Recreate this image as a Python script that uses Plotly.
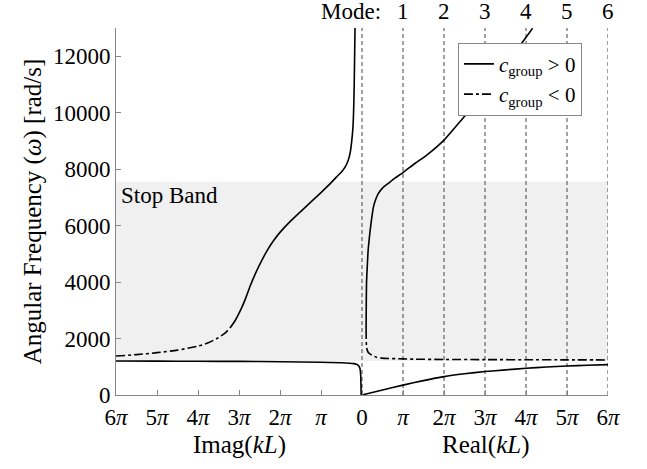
import plotly.graph_objects as go

PI = "<i>π</i>"
# x values in units of pi (negative side = Imag(kL), positive side = Real(kL))
lower_left_x = [-6, -5, -4, -3, -2, -1, -0.5, -0.3, -0.2, -0.14, -0.1, -0.07, -0.05, -0.04, -0.03, -0.025, -0.02]
lower_left_y = [1205, 1200, 1195, 1190, 1178, 1158, 1140, 1125, 1110, 1090, 1060, 1010, 940, 850, 650, 350, 0]

lower_right_x = [0, 0.5, 1, 1.5, 2, 2.5, 3, 3.5, 4, 4.5, 5, 5.5, 6]
lower_right_y = [0, 180, 350, 510, 650, 750, 830, 890, 945, 990, 1025, 1055, 1075]

upper_left_dash_x = [-6, -5.5, -5, -4.5, -4, -3.75, -3.54, -3.35, -3.22]
upper_left_dash_y = [1380, 1430, 1500, 1590, 1730, 1850, 2000, 2180, 2370]
upper_left_solid_x = [-3.22, -3.1, -2.98, -2.85, -2.73, -2.6, -2.45, -2.3, -2.15, -2.0, -1.75, -1.51, -1.25,
                      -1.0, -0.8, -0.62, -0.5, -0.41, -0.34, -0.29, -0.25, -0.22, -0.2, -0.19, -0.18, -0.17]
upper_left_solid_y = [2370, 2620, 2950, 3380, 3850, 4300, 4750, 5150, 5480, 5760, 6150, 6480, 6830,
                      7170, 7450, 7727, 7900, 8081, 8300, 8566, 9000, 9500, 10300, 11000, 12000, 13000]

upper_right_dash_x = [0.1, 0.103, 0.11, 0.125, 0.14, 0.18, 0.24, 0.35, 0.48, 1, 1.29, 2, 3, 4, 5, 6]
upper_right_dash_y = [2300, 2000, 1710, 1600, 1540, 1470, 1416, 1340, 1305, 1280, 1268, 1260, 1254, 1249, 1245, 1242]
upper_right_solid_x = [0.1, 0.103, 0.11, 0.13, 0.15, 0.2, 0.24, 0.28, 0.34, 0.4, 0.5, 0.64, 0.8, 1.0,
                       1.29, 1.58, 2.0, 2.4, 2.83, 3.4, 3.9, 4.16]
upper_right_solid_y = [2300, 3000, 3950, 4600, 5130, 5840, 6300, 6666, 6950, 7140, 7330, 7494, 7680, 7880,
                       8200, 8500, 9030, 9700, 10440, 11500, 12470, 12990]

stop_band = [1200, 7550]
tick_vals = list(range(-6, 7))
tick_text = ["6" + PI, "5" + PI, "4" + PI, "3" + PI, "2" + PI, PI, "0",
             PI, "2" + PI, "3" + PI, "4" + PI, "5" + PI, "6" + PI]
mode_nums = [1, 2, 3, 4, 5, 6]

FONT = "Liberation Serif"
FS = 23
FT = 25

fig = go.Figure()
solid = dict(color="black", width=1.6, shape="spline", smoothing=0.6)
dashd = dict(color="black", width=1.6, dash="dashdot", shape="spline", smoothing=0.6)

fig.add_trace(go.Scatter(x=lower_left_x, y=lower_left_y, mode="lines", line=solid, showlegend=False))
fig.add_trace(go.Scatter(x=lower_right_x, y=lower_right_y, mode="lines", line=solid, showlegend=False))
fig.add_trace(go.Scatter(x=upper_left_solid_x, y=upper_left_solid_y, mode="lines", line=solid,
                         name="<i>c</i><sub>group</sub> &gt; 0", showlegend=True))
fig.add_trace(go.Scatter(x=upper_left_dash_x, y=upper_left_dash_y, mode="lines", line=dashd,
                         name="<i>c</i><sub>group</sub> &lt; 0", showlegend=True))
fig.add_trace(go.Scatter(x=upper_right_solid_x, y=upper_right_solid_y, mode="lines", line=solid, showlegend=False))
fig.add_trace(go.Scatter(x=upper_right_dash_x, y=upper_right_dash_y, mode="lines", line=dashd, showlegend=False))

# stop band
fig.add_shape(type="rect", xref="x", yref="y", x0=-6, x1=6, y0=stop_band[0], y1=stop_band[1],
              fillcolor="#f0f0f0", line=dict(width=0), layer="below")
# mode lines
for m in [0] + mode_nums:
    fig.add_shape(type="line", xref="x", yref="y", x0=m, x1=m, y0=0, y1=13000,
                  line=dict(color="#444444", width=1, dash="4px,3px"), layer="below")

fig.add_annotation(x=-6, y=7050, xref="x", yref="y", text="Stop Band", showarrow=False,
                   xanchor="left", yanchor="middle", xshift=3, font=dict(family=FONT, size=FS, color="black"))
fig.add_annotation(x=0.5, y=1.045, xref="x", yref="paper", text="Mode:", showarrow=False,
                   xanchor="right", yanchor="middle", font=dict(family=FONT, size=FS, color="black"))
for m in mode_nums:
    fig.add_annotation(x=m, y=1.045, xref="x", yref="paper", text=str(m), showarrow=False,
                       xanchor="center", yanchor="middle", font=dict(family=FONT, size=FS, color="black"))
fig.add_annotation(x=-3, y=-0.137, xref="x", yref="paper", text="Imag(<i>kL</i>)", showarrow=False,
                   xanchor="center", yanchor="middle", font=dict(family=FONT, size=FT, color="black"))
fig.add_annotation(x=3, y=-0.137, xref="x", yref="paper", text="Real(<i>kL</i>)", showarrow=False,
                   xanchor="center", yanchor="middle", font=dict(family=FONT, size=FT, color="black"))

fig.update_layout(
    width=647, height=469,
    margin=dict(l=116, r=39, t=28, b=74),
    plot_bgcolor="white", paper_bgcolor="white",
    font=dict(family=FONT, size=FS, color="black"),
    legend=dict(x=0.695, y=0.96, xanchor="left", yanchor="top", bgcolor="white",
                bordercolor="#888888", borderwidth=1, font=dict(family=FONT, size=21),
                tracegroupgap=0, itemwidth=30),
    xaxis=dict(range=[-6, 6], tickvals=tick_vals, ticktext=tick_text, showgrid=False, zeroline=False,
               showline=True, linecolor="#888888", linewidth=1, ticks="inside", ticklen=5,
               tickcolor="#888888", ticklabelstandoff=1),
    yaxis=dict(range=[0, 13000], tickvals=list(range(0, 13000, 2000)), showgrid=False, zeroline=False,
               showline=True, linecolor="#888888", linewidth=1, ticks="inside", ticklen=5,
               tickcolor="#888888", tickformat="d",
               title=dict(text="Angular Frequency (<i>ω</i>) [rad/s]", standoff=4,
                          font=dict(family=FONT, size=FT))),
)

fig.write_html("out.html")
